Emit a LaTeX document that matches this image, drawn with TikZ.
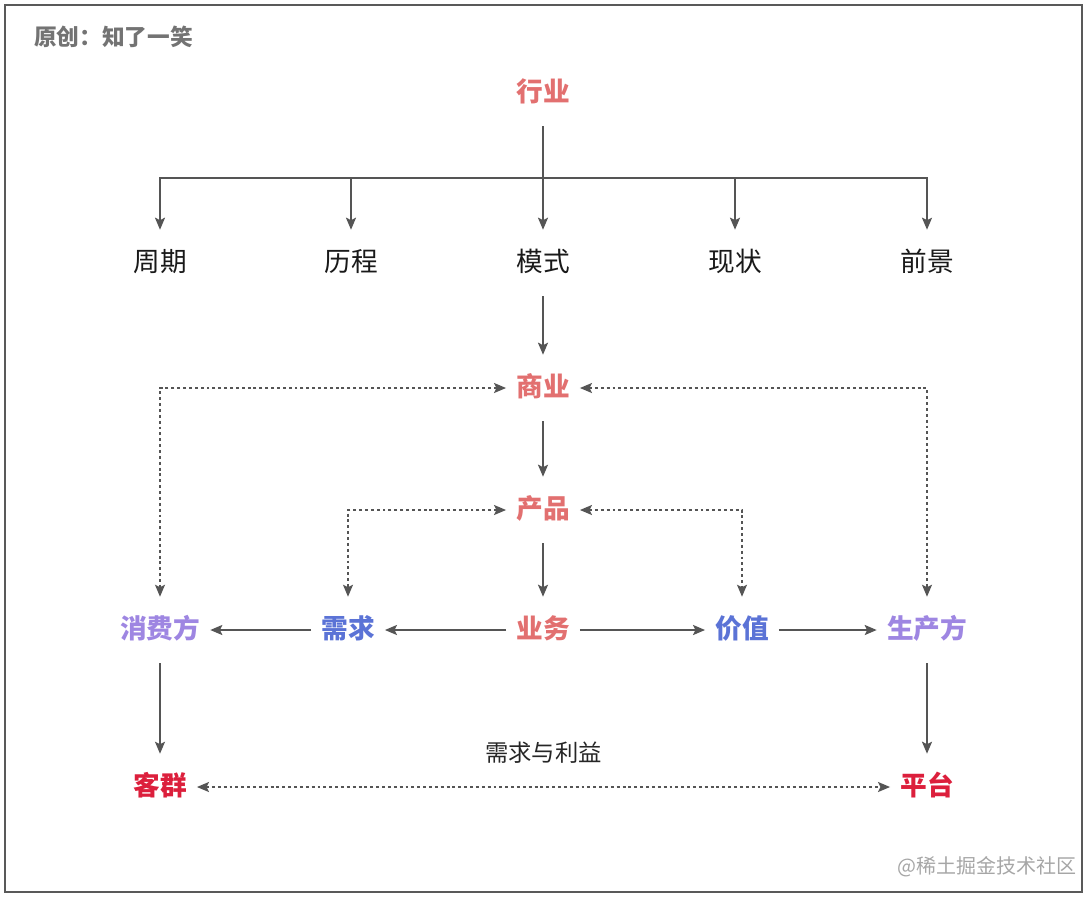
\documentclass[tikz,border=0pt]{standalone}
\usepackage{fontspec}
\setmainfont{Noto Sans CJK SC}
\usepackage{xcolor}
\usetikzlibrary{arrows.meta,positioning,calc}
\definecolor{bizred}{HTML}{E27070}
\definecolor{valblue}{HTML}{5B73D6}
\definecolor{sidepurple}{HTML}{9E86E2}
\definecolor{endred}{HTML}{DC1F3C}
\definecolor{wire}{HTML}{555555}

\begin{document}
\begin{tikzpicture}[
  x=0.75pt,y=-0.75pt,
  font=\fontsize{20}{24}\selectfont,
  term/.style={inner xsep=7.5pt,inner ysep=0pt,minimum height=49.5pt,
               text height=1.2em,text depth=0pt},
  biz/.style={term,text=bizred,font=\fontsize{20}{24}\selectfont\bfseries},
  val/.style={term,text=valblue,font=\fontsize{20}{24}\selectfont\bfseries},
  side/.style={term,text=sidepurple,font=\fontsize{20}{24}\selectfont\bfseries},
  goal/.style={term,text=endred,font=\fontsize{20}{24}\selectfont\bfseries},
  plain/.style={term,text=black!90},
  trunk/.style={draw=wire,line width=1.5pt},
  flow/.style={draw=wire,line width=1.5pt,-{Stealth[length=9pt,width=7.5pt,inset=1.8pt]}},
  link/.style={draw=wire,line width=1.2pt,dash pattern=on 2.2pt off 2.2pt,
               {Stealth[length=9pt,width=7.5pt,inset=1.8pt]}-{Stealth[length=9pt,width=7.5pt,inset=1.8pt]}},
  lbl/.style={font=\fontsize{17.5}{21}\selectfont,text=black!85,inner sep=0pt},
]
  \useasboundingbox (0,0) rectangle (1092,901);
  \draw[draw=black!65,line width=1.5pt] (5,5) rectangle (1082,892);

  \node[font=\fontsize{17}{20}\selectfont\bfseries,text=black!55,anchor=west,inner sep=0pt]
       (origin) at (34,37) {原创：知了一笑};
  \node[font=\fontsize{15}{18}\selectfont,text=black!35,anchor=east,inner sep=0pt]
       (mark) at (1077,867) {@稀土掘金技术社区};

  \node[biz]   (hy)  at (543,93)  {行业};
  \node[plain] (zq)  at (160,263) {周期};
  \node[plain] (lc)  at (351,263) {历程};
  \node[plain] (ms)  at (543,263) {模式};
  \node[plain] (xz)  at (735,263) {现状};
  \node[plain] (qj)  at (927,263) {前景};

  \node[biz]   (sy)  at (543,388) {商业};
  \node[biz]   (cp)  at (543,510) {产品};

  \node[side]  (xf)  at (160,630) {消费方};
  \node[val]   (xq)  at (348,630) {需求};
  \node[biz]   (yw)  at (543,630) {业务};
  \node[val]   (jz)  at (742,630) {价值};
  \node[side]  (scf) at (927,630) {生产方};

  \node[goal]  (kq)  at (160,787) {客群};
  \node[goal]  (pt)  at (927,787) {平台};

  \coordinate (fork) at (543,178);
  \draw[trunk] (hy) -- (fork);
  \foreach \n in {zq,lc,ms,xz,qj}
    \draw[flow] (fork) -| (\n);

  \draw[flow] (ms) -- (sy);
  \draw[flow] (sy) -- (cp);
  \draw[flow] (cp) -- (yw);

  \draw[link] (sy.west) -| (xf);
  \draw[link] (sy.east) -| (scf);
  \draw[link] (cp.west) -| (xq);
  \draw[link] (cp.east) -| (jz);

  \draw[flow] (yw) -- (xq);
  \draw[flow] (xq) -- (xf);
  \draw[flow] (yw) -- (jz);
  \draw[flow] (jz) -- (scf);

  \draw[flow] (xf) -- (kq);
  \draw[flow] (scf) -- (pt);

  \draw[link] (kq) -- node[lbl,yshift=25.5pt] (gain) {需求与利益} (pt);
\end{tikzpicture}
\end{document}
